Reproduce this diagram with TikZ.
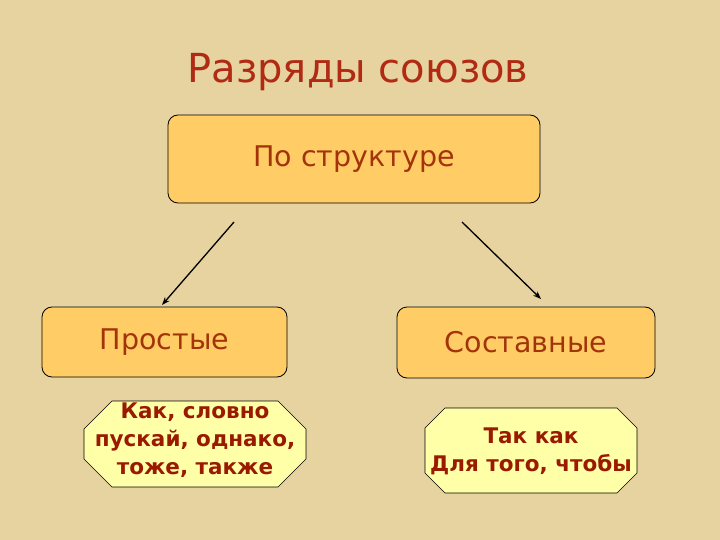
\documentclass[tikz,border=0pt]{standalone}
\usepackage{fontspec}
\setmainfont{DejaVu Sans}
\usetikzlibrary{arrows.meta}
\definecolor{paper}{HTML}{E6D3A0}
\definecolor{boxfill}{HTML}{FFCC66}
\definecolor{octfill}{HTML}{FFFFA8}
\definecolor{titlecol}{HTML}{B02A14}
\definecolor{textcol}{HTML}{A3340A}
\definecolor{octtext}{HTML}{9A1A00}
\tikzset{
  rbox/.style={draw=black, line width=0.8pt, fill=boxfill, rounded corners=10pt, inner sep=0pt, text=textcol, font=\fontsize{28.5}{32}\selectfont},
  octline/.style={draw=black, line width=0.6pt, fill=octfill},
  octtxt/.style={inner sep=0pt, text=octtext, align=center, font=\bfseries\fontsize{21.5}{28}\selectfont},
  conn/.style={line width=1.3pt, -{Stealth[length=8pt,width=6pt]}}
}
\begin{document}
\begin{tikzpicture}[x=1pt,y=-1pt]
\fill[paper] (0,0) rectangle (720,540);
\useasboundingbox (0,0) rectangle (720,540);
\node[text=titlecol, font=\fontsize{40}{46}\selectfont] (title) at (358,72) {Разряды союзов};
\node[rbox, minimum width=372pt, minimum height=88pt] (top) at (354,159) {По структуре};
\node[rbox, minimum width=245pt, minimum height=70pt] (left) at (164.5,342) {Простые};
\node[rbox, minimum width=258pt, minimum height=71pt] (right) at (526,342.5) {Составные};
% left octagon
\draw[octline] (112,401) -- (278,401) -- (306,429) -- (306,459) -- (278,487) -- (112,487) -- (84,459) -- (84,429) -- cycle;
\node[octtxt] (loct) at (195,440) {Как, словно\\пускай, однако,\\тоже, также};
% right octagon
\draw[octline] (445,408) -- (617,408) -- (637,428) -- (637,473) -- (617,493) -- (445,493) -- (425,473) -- (425,428) -- cycle;
\node[octtxt] (roct) at (531,451) {Так как\\Для того, чтобы};
\coordinate (ls) at (234,222);
\coordinate (le) at (162,305);
\coordinate (rs) at (462,222);
\coordinate (re) at (541,299);
\draw[conn] (ls) -- (le);
\draw[conn] (rs) -- (re);
\end{tikzpicture}
\end{document}
